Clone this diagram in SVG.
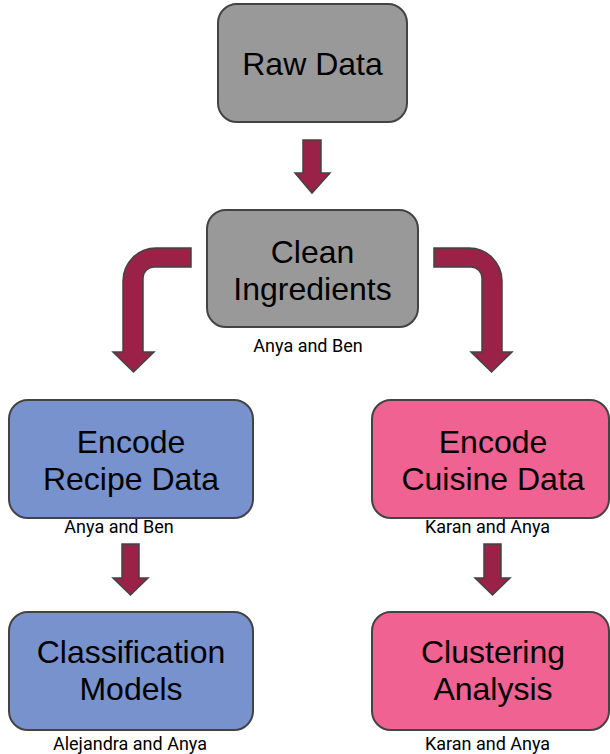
<svg xmlns="http://www.w3.org/2000/svg" width="610" height="754" viewBox="0 0 610 754">
  <style>
    .box { stroke: #434343; stroke-width: 2; }
    .gray { fill: #999999; }
    .blue { fill: #7792CC; }
    .pink { fill: #F06292; }
    .title { font-family: "Liberation Sans", Arial, sans-serif; font-size: 32px; fill: #000000; text-anchor: middle; }
    .who { font-family: Roboto, "Liberation Sans", sans-serif; font-size: 18px; fill: #000000; text-anchor: middle; }
    .arrow { fill: #9A2249; stroke: #434343; stroke-width: 1.5; stroke-linejoin: miter; }
  </style>
  <rect width="610" height="754" fill="#ffffff"/>

  <g id="connectors">
    <path class="arrow" d="M303,140 L321,140 L321,173 L330,173 L312,193 L295,173 L303,173 Z"/>
    <path class="arrow" d="M191,248 L156,248 A33,33 0 0 0 123,281 L123,352 L113,352 L133.5,372 L154,352 L143,352 L143,278 A11,11 0 0 1 154,267 L191,267 Z"/>
    <path class="arrow" d="M434,248 L469,248 A33,33 0 0 1 502,281 L502,352 L512,352 L491.5,372 L471,352 L482,352 L482,278 A11,11 0 0 0 471,267 L434,267 Z"/>
    <path class="arrow" d="M122,544 L139,544 L139,578 L148,578 L130.5,595 L113,578 L122,578 Z"/>
    <path class="arrow" d="M484,544 L501,544 L501,578 L510,578 L492.5,595 L475,578 L484,578 Z"/>
  </g>

  <g id="raw-data">
    <rect class="box gray" x="218" y="4" width="189" height="118" rx="19"/>
    <text class="title" x="312.5" y="75">Raw Data</text>
  </g>

  <g id="clean-ingredients">
    <rect class="box gray" x="207" y="210" width="211" height="117" rx="19"/>
    <text class="title" x="312.5" y="263">Clean</text>
    <text class="title" x="312.5" y="300">Ingredients</text>
    <text class="who" x="308" y="352">Anya and Ben</text>
  </g>

  <g id="encode-recipe">
    <rect class="box blue" x="9" y="400" width="244" height="118" rx="19"/>
    <text class="title" x="131" y="453">Encode</text>
    <text class="title" x="131" y="490">Recipe Data</text>
    <text class="who" x="119" y="533">Anya and Ben</text>
  </g>

  <g id="encode-cuisine">
    <rect class="box pink" x="372" y="400" width="237" height="118" rx="19"/>
    <text class="title" x="493" y="453">Encode</text>
    <text class="title" x="493" y="490">Cuisine Data</text>
    <text class="who" x="487.5" y="533">Karan and Anya</text>
  </g>

  <g id="classification-models">
    <rect class="box blue" x="9" y="612" width="244" height="118" rx="19"/>
    <text class="title" x="131" y="663">Classification</text>
    <text class="title" x="131" y="700">Models</text>
    <text class="who" x="130" y="750">Alejandra and Anya</text>
  </g>

  <g id="clustering-analysis">
    <rect class="box pink" x="372" y="612" width="237" height="118" rx="19"/>
    <text class="title" x="493" y="663">Clustering</text>
    <text class="title" x="493" y="700">Analysis</text>
    <text class="who" x="487.5" y="750">Karan and Anya</text>
  </g>
</svg>
